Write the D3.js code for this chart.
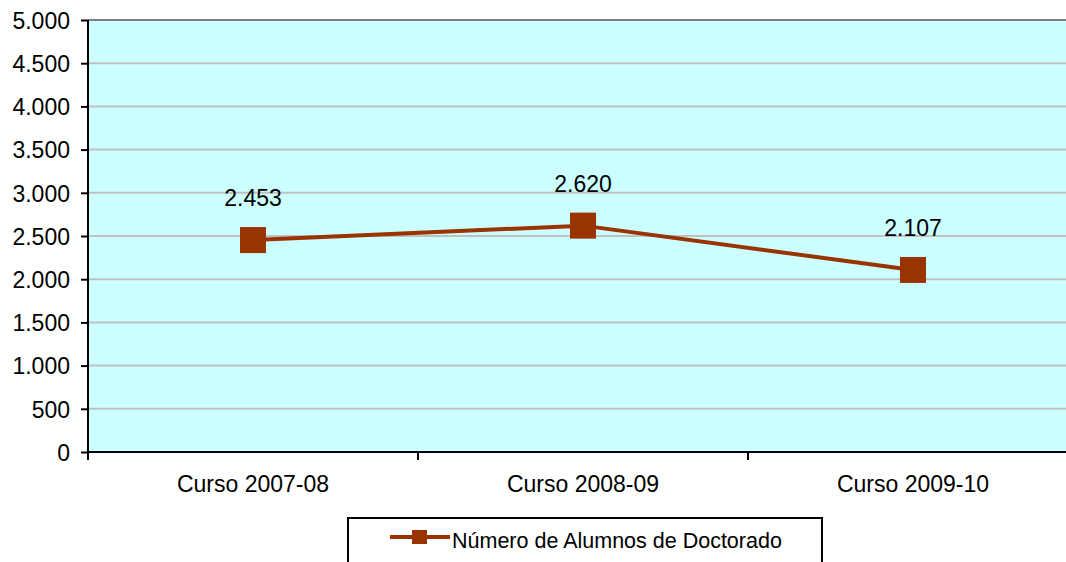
<!DOCTYPE html>
<html><head><meta charset="utf-8">
<script src="https://cdn.jsdelivr.net/npm/d3@7"></script>
<style>body{margin:0;background:#fff}svg{display:block}text{font-family:"Liberation Sans",Arial,sans-serif}</style>
</head><body>
<script>
const categories = ["Curso 2007-08", "Curso 2008-09", "Curso 2009-10"];
const values = [2453, 2620, 2107];
const valueLabels = ["2.453", "2.620", "2.107"];
const yTicks = [0, 500, 1000, 1500, 2000, 2500, 3000, 3500, 4000, 4500, 5000];
const yTickLabels = ["0", "500", "1.000", "1.500", "2.000", "2.500", "3.000", "3.500", "4.000", "4.500", "5.000"];
const seriesName = "Número de Alumnos de Doctorado";

const W = 1066, H = 562;
const L = 88, R = 1078, T = 20, B = 452;
const color = "#993300";
const FS = 23;

const svg = d3.select("body").append("svg").attr("width", W).attr("height", H);

const x = d3.scaleBand().domain(categories).range([L, R]).padding(0);
const y = d3.scaleLinear().domain([0, 5000]).range([B, T]);

svg.append("rect").attr("x", L).attr("y", T).attr("width", W - L).attr("height", B - T).attr("fill", "#ccffff");

svg.append("g").selectAll("line").data(yTicks.slice(1)).join("line")
  .attr("x1", L).attr("x2", W).attr("y1", d => y(d)).attr("y2", d => y(d))
  .attr("stroke", d => d === 5000 ? "#808080" : "#c0c0c0").attr("stroke-width", 2);

// y axis
const yAxis = d3.axisLeft(y).tickValues(yTicks).tickFormat((d, i) => yTickLabels[i]).tickSize(7).tickPadding(11);
const gy = svg.append("g").attr("transform", `translate(${L},0)`).call(yAxis);
gy.select(".domain").attr("stroke", "#000").attr("stroke-width", 2).attr("d", `M0,${T}V${B + 8}`);
gy.selectAll(".tick line").attr("stroke", "#000").attr("stroke-width", 2);
gy.selectAll(".tick text").attr("font-size", FS).attr("fill", "#000").attr("font-family", "Liberation Sans, Arial, sans-serif").attr("dy", "0.36em");

// x axis
const xAxis = d3.axisBottom(x).tickSize(0);
const gx = svg.append("g").attr("transform", `translate(0,${B})`).call(xAxis);
gx.select(".domain").attr("stroke", "#000").attr("stroke-width", 2).attr("d", `M${L},0H${W}`);
gx.selectAll(".tick text").attr("font-size", FS).attr("fill", "#000").attr("font-family", "Liberation Sans, Arial, sans-serif")
  .attr("y", 40).attr("dy", 0);
const bounds = categories.map(c => x(c)).concat([x(categories[categories.length - 1]) + x.bandwidth()]);
svg.append("g").selectAll("line").data(bounds.filter(b => b <= W)).join("line")
  .attr("x1", d => d).attr("x2", d => d).attr("y1", B).attr("y2", B + 8)
  .attr("stroke", "#000").attr("stroke-width", 2);

const cx = c => x(c) + x.bandwidth() / 2;

svg.append("path").datum(values)
  .attr("d", d3.line().x((d, i) => cx(categories[i])).y(d => y(d)))
  .attr("fill", "none").attr("stroke", color).attr("stroke-width", 4);

const ms = 26;
svg.append("g").selectAll("rect").data(values).join("rect")
  .attr("x", (d, i) => cx(categories[i]) - ms / 2).attr("y", d => y(d) - ms / 2)
  .attr("width", ms).attr("height", ms).attr("fill", color);

svg.append("g").selectAll("text").data(values).join("text")
  .attr("x", (d, i) => cx(categories[i])).attr("y", d => y(d) - 34)
  .attr("text-anchor", "middle").attr("font-size", FS).attr("fill", "#000")
  .text((d, i) => valueLabels[i]);

// legend
const lg = svg.append("g");
lg.append("rect").attr("x", 348).attr("y", 518).attr("width", 474).attr("height", 50)
  .attr("fill", "#fff").attr("stroke", "#000").attr("stroke-width", 2);
lg.append("line").attr("x1", 390).attr("x2", 450).attr("y1", 537).attr("y2", 537).attr("stroke", color).attr("stroke-width", 4);
lg.append("rect").attr("x", 412).attr("y", 530).attr("width", 15).attr("height", 14).attr("fill", color);
lg.append("text").attr("x", 452).attr("y", 548).attr("font-size", 21.5).attr("fill", "#000").text(seriesName);
</script>
</body></html>
